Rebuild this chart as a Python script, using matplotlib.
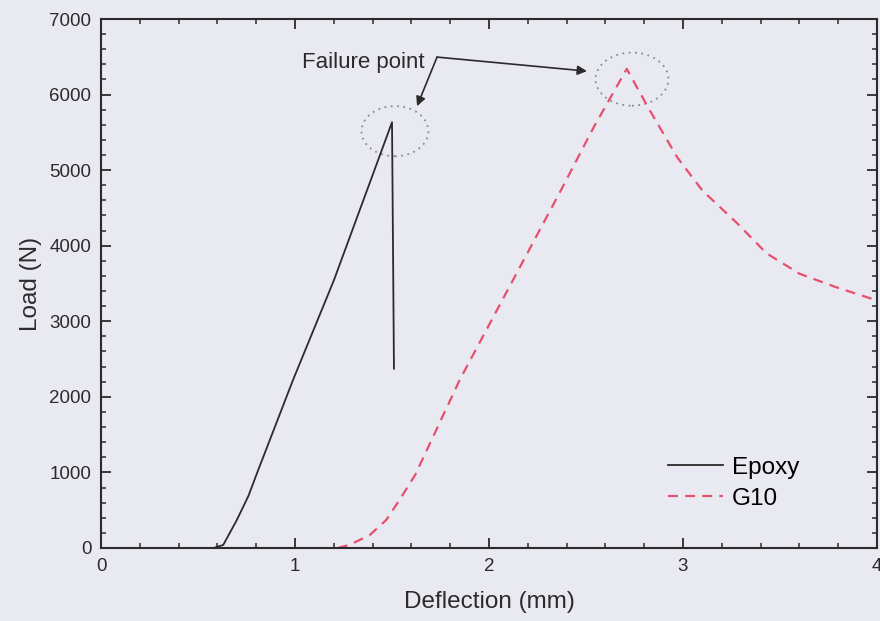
import matplotlib
matplotlib.use('Agg')
from matplotlib import pyplot as plt
from matplotlib.patches import Ellipse
from matplotlib.ticker import MultipleLocator

# Load-deflection data
epoxy_x = [0.58, 0.63, 0.70, 0.76, 0.81, 0.99, 1.20, 1.39, 1.50, 1.51]
epoxy_y = [0, 40, 370, 690, 1030, 2225, 3540, 4865, 5634, 2373]

g10_x = [1.22, 1.28, 1.385, 1.47, 1.54, 1.62, 1.85, 2.37, 2.54, 2.71,
         2.82, 2.97, 3.10, 3.28, 3.43, 3.60, 3.79, 4.0]
g10_y = [0, 40, 170, 370, 640, 970, 2230, 4730, 5570, 6340,
         5830, 5170, 4730, 4295, 3900, 3630, 3450, 3275]

# failure point markers (centre x, centre y)
fail_x = [1.515, 2.737]
fail_y = [5515, 6204]

bg = '#e9e9f2'
ink = '#2b2b2b'
big = 17.5

plt.rcParams['font.family'] = ['Liberation Sans', 'DejaVu Sans']
plt.rcParams['font.size'] = 13.5

fig = plt.figure(figsize=(8.8, 6.21), dpi=100, facecolor=bg)
ax = fig.add_axes([0.1148, 0.1176, 0.8818, 0.8518], facecolor=bg)

ax.plot(epoxy_x, epoxy_y, color=ink, lw=1.3, label='Epoxy')
ax.plot(g10_x, g10_y, color='#e5506c', lw=1.6, dashes=(4.5, 3.2), label='G10')

# dotted circles round the two failure points
ax.add_patch(Ellipse((fail_x[0], fail_y[0]), 0.345, 663, fill=False,
                     ec='#8a8a95', ls=(0, (1, 2.5)), lw=1.3))
ax.add_patch(Ellipse((fail_x[1], fail_y[1]), 0.376, 703, fill=False,
                     ec='#8a8a95', ls=(0, (1, 2.5)), lw=1.3))

arrow = dict(arrowstyle='-|>', color=ink, lw=1.2, mutation_scale=14,
             shrinkA=0, shrinkB=0)
ax.annotate('', xy=(2.505, 6310), xytext=(1.732, 6496), arrowprops=arrow)
ax.annotate('', xy=(1.629, 5846), xytext=(1.732, 6496), arrowprops=arrow)
ax.text(1.35, 6430, 'Failure point', ha='center', va='center', color=ink,
        fontsize=16)

ax.set_xlim(0, 4)
ax.set_ylim(0, 7000)
ax.xaxis.set_major_locator(MultipleLocator(1))
ax.xaxis.set_minor_locator(MultipleLocator(0.2))
ax.yaxis.set_major_locator(MultipleLocator(1000))
ax.yaxis.set_minor_locator(MultipleLocator(200))
ax.tick_params(which='both', direction='in', top=True, right=True,
               color=ink, labelcolor=ink)
ax.tick_params(which='major', length=7, width=1.3, pad=7)
ax.tick_params(which='minor', length=3.5, width=1.1)
for s in ax.spines.values():
    s.set_color(ink)
    s.set_linewidth(1.5)

ax.set_xlabel('Deflection (mm)', color=ink, labelpad=12, fontsize=big)
ax.set_ylabel('Load (N)', color=ink, labelpad=5, fontsize=big)

ax.legend(loc='upper left', bbox_to_anchor=(0.7307, 0.172), frameon=False,
          fontsize=big, borderpad=0, borderaxespad=0,
          handlelength=2.26, handletextpad=0.37, labelspacing=0.36)

fig.savefig('out.png', dpi=100, facecolor=bg)
